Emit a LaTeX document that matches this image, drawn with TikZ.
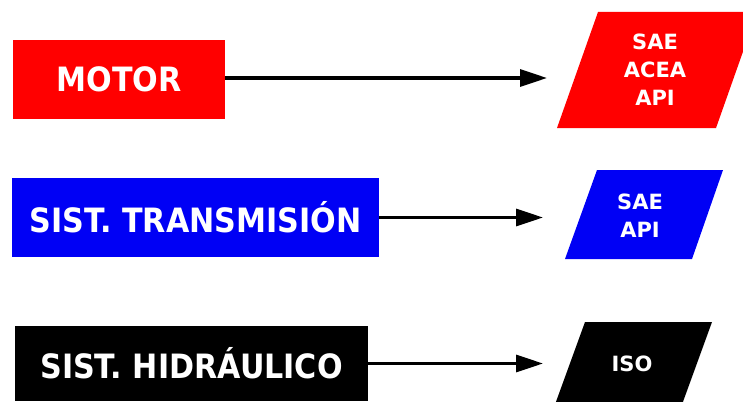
\documentclass[tikz,border=0pt]{standalone}
\usepackage{fontspec}
\setmainfont{DejaVu Sans}
\newfontfamily\condfont[FakeStretch=0.9]{DejaVu Sans}
\usetikzlibrary{arrows.meta}
\definecolor{cred}{RGB}{255,0,0}
\definecolor{cblue}{RGB}{0,0,245}
\begin{document}
\begin{tikzpicture}[x=1pt,y=-1pt,
  bigbox/.style={text=white, font=\condfont\fontsize{33.5}{40}\selectfont\bfseries, inner sep=0pt, anchor=center},
  small/.style={text=white, font=\fontsize{21}{28}\selectfont\bfseries, align=center, inner sep=0pt},
  conn/.style={line width=3.2pt, -{Triangle[length=27pt,width=17pt]}}]
\useasboundingbox (0,0) rectangle (743,401);
% source boxes
\node[bigbox, fill=cred, minimum width=212pt, minimum height=79pt] (motor) at (119,79.5) {MOTOR};
\node[bigbox, fill=cblue, minimum width=367pt, minimum height=79pt] (trans) at (195.5,217.5) {SIST. TRANSMISIÓN};
\node[bigbox, fill=black, minimum width=353pt, minimum height=75pt] (hidr) at (191.5,363.5) {SIST. HIDRÁULICO};
% parallelograms
\fill[cred] (598,12) -- (757,12) -- (716,128) -- (557,128) -- cycle;
\fill[cblue] (597,170) -- (723,170) -- (692,259) -- (565,259) -- cycle;
\fill[black] (585,322) -- (712,322) -- (680,410) -- (553,410) -- cycle;
\node[small] (std1) at (655,70) {SAE\\ACEA\\API};
\node[small] (std2) at (640,216) {SAE\\API};
\node[small] (std3) at (632,364) {ISO};
% arrow ends
\coordinate (t1) at (547,78);
\coordinate (t2) at (543,217.5);
\coordinate (t3) at (543,363.5);
\draw[conn] (motor.east |- t1) -- (t1);
\draw[conn] (trans.east) -- (t2);
\draw[conn] (hidr.east) -- (t3);
\end{tikzpicture}
\end{document}
